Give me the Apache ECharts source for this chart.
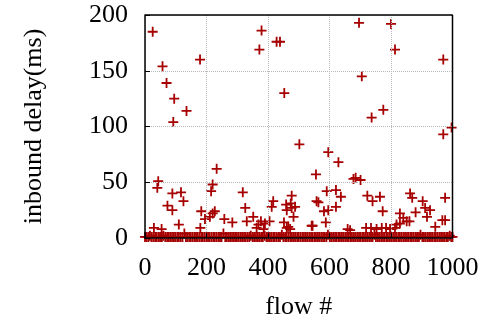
<!DOCTYPE html>
<html lang="en">
<head>
  <meta charset="utf-8">
</head>
<body style="margin: 0">
  <div id="container" style="width: 488px; height: 320px"></div>

  <script type="text/javascript" src="https://cdn.jsdelivr.net/npm/echarts@6/dist/echarts.min.js"></script>
  <script type="text/javascript">
    // flows with a noticeable inbound delay: [flow #, delay ms]
    var delayedFlows = [
      [25, 185], [57, 154], [70, 139], [95, 125], [135, 114], [92, 104], [179, 160],
      [379, 186], [372, 169], [428, 176], [439, 176], [453, 130],
      [696, 193], [800, 192], [813, 169], [970, 160], [705, 145], [775, 115], [737, 108],
      [997, 99], [970, 93], [502, 84], [233, 62], [556, 57], [596, 77], [629, 68],
      [678, 53], [685, 54], [701, 52],
      [43, 51], [40, 45], [220, 48], [215, 42], [89, 40], [117, 41], [125, 33], [318, 41],
      [73, 29], [89, 25], [326, 27], [183, 24], [195, 17], [211, 19], [220, 22], [227, 24],
      [258, 17], [284, 14], [352, 19], [331, 15], [369, 12], [377, 15], [390, 13], [405, 15],
      [363, 9], [386, 8], [417, 33], [412, 28], [477, 38], [459, 30], [474, 31], [488, 28],
      [461, 25], [477, 27], [483, 19], [452, 14], [466, 10], [472, 8], [461, 9], [542, 11],
      [558, 33], [29, 9], [54, 8], [110, 12], [180, 9],
      [591, 42], [621, 43], [637, 37], [564, 32], [582, 24], [596, 25], [621, 28], [588, 14],
      [545, 11], [723, 38], [740, 33], [764, 37], [773, 24], [862, 40], [869, 36], [903, 33],
      [911, 27], [927, 25], [917, 19], [880, 23], [976, 36], [967, 16], [976, 16], [944, 10],
      [829, 22], [840, 18], [851, 15], [860, 15], [829, 13], [818, 12], [813, 9], [797, 8],
      [659, 8], [667, 7], [753, 8], [770, 9], [784, 9], [735, 9], [719, 9]
    ];

    // the bulk of flows, with almost no delay
    var quietFlows = [
      [0, 1], [5, 1], [11, 1], [16, 2], [21, 1], [27, 1], [33, 1], [38, 1], [44, 1], [49, 1],
      [55, 1], [60, 2], [66, 1], [72, 1], [77, 1], [82, 1], [88, 1], [94, 1], [99, 1], [105, 1],
      [110, 1], [116, 1], [122, 1], [128, 4], [133, 1], [138, 1], [144, 1], [149, 1], [155, 1],
      [161, 1], [166, 1], [171, 1], [177, 1], [183, 1], [188, 1], [194, 1], [200, 1], [205, 1],
      [210, 1], [216, 1], [222, 1], [227, 1], [233, 1], [239, 1], [244, 1], [249, 1], [255, 4],
      [261, 1], [266, 1], [272, 1], [277, 1], [283, 1], [289, 1], [294, 1], [299, 1], [305, 1],
      [311, 1], [316, 1], [322, 1], [327, 1], [333, 1], [339, 1], [344, 2], [350, 1], [355, 1],
      [361, 1], [367, 1], [372, 1], [378, 1], [383, 1], [389, 2], [395, 1], [400, 1], [406, 1],
      [411, 1], [417, 1], [422, 1], [428, 1], [434, 1], [439, 1], [445, 3], [450, 1], [456, 1],
      [461, 1], [467, 1], [473, 1], [478, 1], [484, 1], [489, 1], [495, 1], [500, 1], [506, 1],
      [512, 1], [517, 1], [523, 1], [528, 1], [534, 1], [540, 1], [545, 1], [551, 1], [556, 1],
      [562, 1], [567, 1], [573, 1], [579, 1], [584, 1], [590, 1], [595, 3], [601, 1], [606, 1],
      [612, 1], [618, 1], [623, 1], [629, 1], [634, 1], [640, 1], [645, 1], [651, 1], [657, 1],
      [662, 1], [668, 1], [673, 1], [679, 1], [684, 1], [690, 1], [696, 1], [701, 1], [707, 1],
      [712, 1], [718, 1], [723, 1], [729, 1], [735, 1], [740, 1], [746, 3], [751, 1], [757, 1],
      [762, 1], [768, 1], [774, 1], [779, 1], [785, 1], [790, 1], [796, 1], [801, 1], [807, 1],
      [813, 1], [818, 1], [824, 1], [829, 1], [835, 1], [841, 1], [846, 1], [852, 1], [857, 1],
      [863, 1], [868, 1], [874, 1], [880, 1], [885, 1], [891, 1], [896, 3], [902, 1], [907, 1],
      [913, 1], [919, 1], [924, 1], [930, 1], [935, 1], [941, 1], [946, 1], [952, 1], [958, 1],
      [963, 1], [969, 1], [974, 1], [980, 1], [985, 1], [991, 2], [996, 1], [1000, 1]
    ];

    var xTicks = [0, 200, 400, 600, 800, 1000];
    var yTicks = [0, 50, 100, 150, 200];

    var xMin = xTicks[0], xMax = xTicks[xTicks.length - 1];
    var yMin = yTicks[0], yMax = yTicks[yTicks.length - 1];

    var plus = 'path://M4.1,0H5.9V4.1H10V5.9H5.9V10H4.1V5.9H0V4.1H4.1Z';
    var red = '#a60000';
    var serif = 'Liberation Serif';
    var tickFont = { fontFamily: serif, fontSize: 26, color: '#000' };

    function dotted() {
      return { show: true, lineStyle: { color: '#b8b8b8', type: 'dotted', width: 1 } };
    }

    var chart = echarts.init(document.getElementById('container'));

    var option = {
      animation: false,
      grid: { left: 145, right: 35.5, top: 15, bottom: 82, outerBoundsMode: 'none' },
      xAxis: {
        type: 'value',
        min: xMin, max: xMax, interval: 200,
        z: 10,
        name: 'flow #', nameLocation: 'middle', nameGap: 56,
        nameTextStyle: tickFont,
        axisLine: { show: true, onZero: false, lineStyle: { color: '#000', width: 1.5 } },
        axisTick: { show: true, inside: true, length: 5, lineStyle: { color: '#000' } },
        axisLabel: Object.assign({ margin: 17, formatter: function (v) { return String(v); } }, tickFont),
        splitLine: dotted()
      },
      yAxis: {
        type: 'value',
        min: yMin, max: yMax, interval: 50,
        z: 10,
        name: 'inbound delay(ms)', nameLocation: 'middle', nameGap: 98,
        nameTextStyle: tickFont,
        axisLine: { show: true, onZero: false, lineStyle: { color: '#000', width: 1.5 } },
        axisTick: { show: true, inside: true, length: 5, lineStyle: { color: '#000' } },
        axisLabel: Object.assign({ margin: 17 }, tickFont),
        splitLine: dotted()
      },
      series: [
        {
          type: 'scatter', data: quietFlows, symbol: plus, symbolSize: 10,
          clip: false, itemStyle: { color: red, opacity: 1 }
        },
        {
          type: 'scatter', data: delayedFlows, symbol: plus, symbolSize: 10,
          clip: false, itemStyle: { color: red, opacity: 1 }
        },
        {
          // top and right sides of the plot frame
          type: 'line', silent: true, clip: false, z: 10,
          symbol: 'none',
          lineStyle: { color: '#000', width: 1.5 },
          data: [[xMin, yMax], [xMax, yMax], [xMax, yMin]]
        }
      ]
    };

    chart.setOption(option);
    window.addEventListener('resize', chart.resize);
  </script>
</body>
</html>
